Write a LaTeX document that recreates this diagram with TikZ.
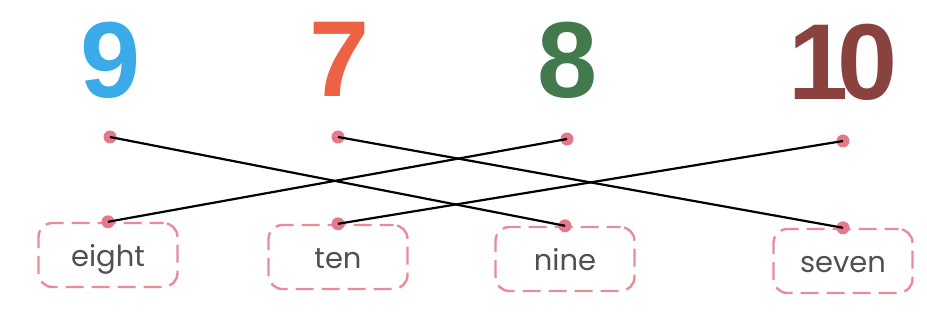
\documentclass[tikz,border=0pt]{standalone}
\usepackage{fontspec}
\newfontfamily\numfont{Liberation Sans}
\newfontfamily\wordfont{Poppins}
\definecolor{cnine}{RGB}{58,170,232}
\definecolor{cseven}{RGB}{236,98,66}
\definecolor{ceight}{RGB}{66,122,78}
\definecolor{cten}{RGB}{138,66,62}
\definecolor{pinkdash}{RGB}{232,140,152}
\definecolor{pinkdot}{RGB}{230,120,138}
\definecolor{wordgray}{RGB}{80,80,84}
\begin{document}
\begin{tikzpicture}[x=1pt,y=-1pt,
  num/.style={anchor=base,inner sep=0pt,font=\numfont\bfseries\fontsize{108}{108}\selectfont},
  wordbox/.style={draw=pinkdash,line width=2.4pt,dash pattern=on 18pt off 8pt,dash phase=4pt,rounded corners=14pt,
    minimum width=139pt,minimum height=64pt,inner sep=0pt,text height=24pt,text depth=0pt,
    text=wordgray,font=\wordfont\fontsize{29}{29}\selectfont},
  pdot/.style={circle,fill=pinkdot,inner sep=0pt,minimum size=13pt},
  link/.style={black,line width=2.2pt}]
\useasboundingbox (0,0) rectangle (927,323);
% numbers
\node[num,text=cnine]  (n9)  at (111,98) {9};
\node[num,text=cseven] (n7)  at (340,97) {7};
\node[num,text=ceight] (n8)  at (568,98) {8};
\node[num,text=cten]   (n10) at (843,100) {1\kern-11pt0};
% top dots
\node[pdot] (d9)  at (110,137) {};
\node[pdot] (d7)  at (338,137) {};
\node[pdot] (d8)  at (567,139) {};
\node[pdot] (d10) at (843,141) {};
% word boxes
\node[wordbox] (beight) at (108,255) {eight};
\node[wordbox] (bten)   at (338,257) {ten};
\node[wordbox] (bnine)  at (565,259) {nine};
\node[wordbox] (bseven) at (843,261) {seven};
% bottom dots
\node[pdot] (e8)  at (beight.north) {};
\node[pdot] (e10) at (bten.north) {};
\node[pdot] (e9)  at (bnine.north) {};
\node[pdot] (e7)  at (bseven.north) {};
% connectors
\draw[link] (d9.center) -- (e9.center);
\draw[link] (d7.center) -- (e7.center);
\draw[link] (d8.center) -- (e8.center);
\draw[link] (d10.center) -- (e10.center);
\end{tikzpicture}
\end{document}
